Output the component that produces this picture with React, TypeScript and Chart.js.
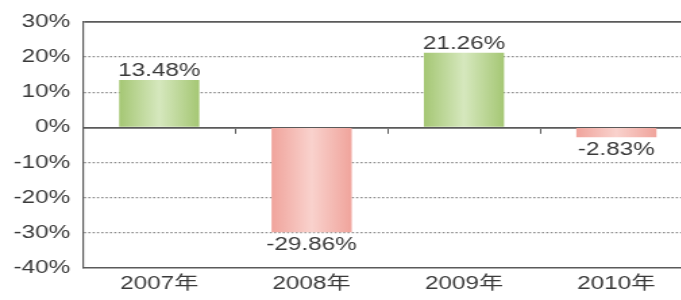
import React, { useEffect, useRef } from "react";
import { Chart, registerables } from "chart.js";

Chart.register(...registerables);

const categories = ["2007年", "2008年", "2009年", "2010年"];
const returns = [13.48, -29.86, 21.26, -2.83];
const yMin = -40;
const yMax = 30;
const yStep = 10;

const SX = 1.35;
const BAR_PCT = 0.526;
const FONT = "'Liberation Sans', Arial, 'Noto Sans CJK SC', sans-serif";

function barFill(c: any) {
  const i = c.dataIndex;
  const pos = i != null && returns[i] >= 0;
  const edge = pos ? "#a5c774" : "#f0a49c";
  const mid = pos ? "#d6e8be" : "#f9d2cd";
  const xs = c.chart.scales && c.chart.scales.x;
  if (!xs || i == null || !isFinite(xs.width) || xs.width <= 0) return edge;
  const cx = xs.getPixelForValue(i);
  const w = (xs.width / categories.length) * BAR_PCT;
  const g = c.chart.ctx.createLinearGradient(cx - w / 2, 0, cx + w / 2, 0);
  g.addColorStop(0, edge);
  g.addColorStop(0.5, mid);
  g.addColorStop(1, edge);
  return g;
}

const labelPlugin = {
  id: "valueLabels",
  afterDatasetsDraw(chart: any) {
    const ctx = chart.ctx;
    const meta = chart.getDatasetMeta(0);
    ctx.save();
    ctx.font = `18px ${FONT}`;
    ctx.fillStyle = "#3a3a3a";
    ctx.textAlign = "center";
    ctx.textBaseline = "alphabetic";
    meta.data.forEach((el: any, i: number) => {
      const { x, y } = el.getProps(["x", "y"], true);
      const v = returns[i];
      const text = v.toFixed(2) + "%";
      if (v >= 0) ctx.fillText(text, x, y - 4);
      else ctx.fillText(text, x, y + 18);
    });
    ctx.restore();
  },
};

export default function App() {
  const ref = useRef<HTMLCanvasElement | null>(null);
  useEffect(() => {
    if (!ref.current) return;
    const chart = new Chart(ref.current, {
      type: "bar",
      data: {
        labels: categories,
        datasets: [
          {
            data: returns,
            backgroundColor: barFill,
            borderWidth: 0,
            categoryPercentage: 1,
            barPercentage: BAR_PCT,
          },
        ],
      },
      options: {
        animation: false,
        responsive: false,
        devicePixelRatio: 1,
        layout: { padding: { top: 22, left: 0, right: 0, bottom: 0 } },
        plugins: { legend: { display: false }, tooltip: { enabled: false } },
        scales: {
          x: {
            type: "category",
            position: "bottom",
            grid: { display: false, drawTicks: false },
            border: { display: true, color: "#5a5a5a", width: 1.6 },
            ticks: {
              color: "#3a3a3a",
              font: { size: 18, family: FONT },
              padding: 5,
            },
            afterFit: (s: any) => {
              s.height = 32;
            },
          },
          x2: {
            type: "category",
            axis: "x",
            position: { y: 0 },
            labels: categories,
            offset: true,
            grid: {
              offset: true,
              drawOnChartArea: false,
              drawTicks: true,
              tickLength: 5,
              tickColor: "#5a5a5a",
              tickWidth: 1,
            },
            border: { display: true, color: "#5a5a5a", width: 1.8 },
            ticks: { display: false },
          },
          y: {
            min: yMin,
            max: yMax,
            ticks: {
              stepSize: yStep,
              color: "#3a3a3a",
              font: { size: 18, family: FONT },
              padding: 9.5,
              callback: (v: any) => v + "%",
            },
            grid: {
              drawTicks: false,
              color: (c: any) => {
                const v = c.tick ? c.tick.value : null;
                if (v === yMax) return "#5a5a5a";
                if (v === 0 || v === yMin) return "rgba(0,0,0,0)";
                return "#8c8c8c";
              },
              lineWidth: (c: any) => {
                const v = c.tick ? c.tick.value : null;
                return v === yMax ? 1.8 : 1.3;
              },
            },
            border: {
              display: true,
              color: "#5a5a5a",
              width: 1.2,
              dash: (c: any) => {
                const v = c && c.tick ? c.tick.value : null;
                return v === yMax ? [] : [1.6, 1.6];
              },
            },
            afterFit: (s: any) => {
              s.width = 61.5;
            },
          },
        },
      },
      plugins: [labelPlugin],
    } as any);
    return () => chart.destroy();
  }, []);

  return (
    <div
      style={{
        position: "absolute",
        left: 0,
        top: 0,
        width: 681,
        height: 300,
        overflow: "hidden",
        background: "#fff",
      }}
    >
      <canvas
        ref={ref}
        width={513}
        height={300}
        style={{
          display: "block",
          transform: `scaleX(${SX})`,
          transformOrigin: "0 0",
        }}
      />
    </div>
  );
}
